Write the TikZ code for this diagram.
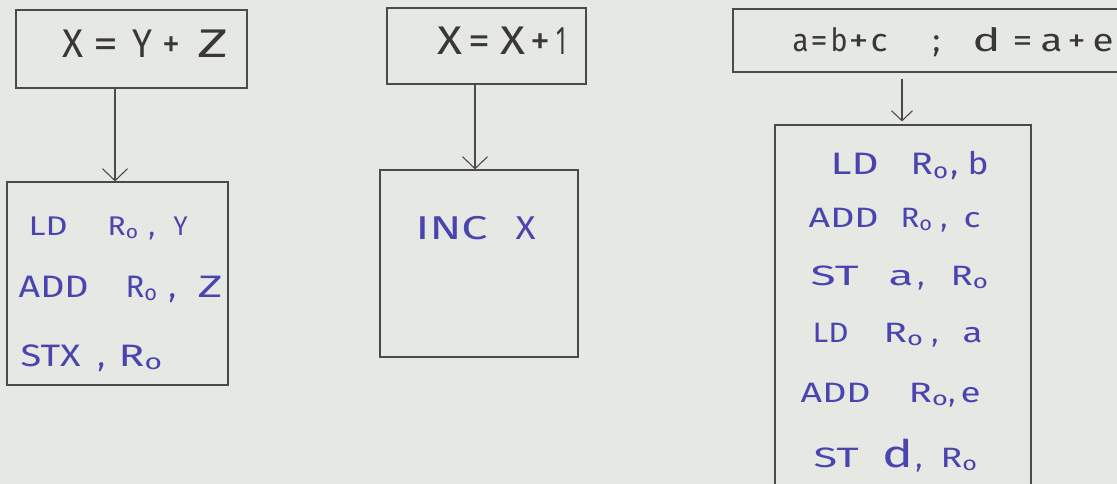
\documentclass[tikz,border=0pt]{standalone}
\usepackage{fontspec}
\usepackage{graphicx}
\setmainfont{Fira Sans}
\usetikzlibrary{arrows.meta}
\definecolor{paper}{HTML}{E6E8E3}
\definecolor{ink}{HTML}{4A44B0}
\definecolor{pencil}{HTML}{383838}
\definecolor{frame}{HTML}{4A4A4A}
\tikzset{
  boxnode/.style={draw=frame, line width=1.1pt, rectangle, inner sep=0pt},
  arr/.style={draw=frame, line width=1.1pt, -{Straight Barb[length=12pt,width=25pt,line width=1.1pt]}},
  code/.style={text=ink, anchor=base west, inner sep=0pt, font=\fontsize{28}{32}\selectfont},
  head/.style={text=pencil, anchor=base west, inner sep=0pt, font=\fontsize{40}{44}\selectfont},
}
% token at offset #1, stretched to width #2
\newcommand{\tk}[3]{\makebox[0pt][l]{\hspace*{#1}\resizebox{#2}{\height}{#3}}}
% token at offset #1, natural width
\newcommand{\tn}[2]{\makebox[0pt][l]{\hspace*{#1}#2}}
\newcommand{\Rz}{R\textsubscript{o}}
\begin{document}
\begin{tikzpicture}[x=1pt,y=-1pt]
\fill[paper] (0,0) rectangle (1117,484);
\useasboundingbox (0,0) rectangle (1117,484);
\clip (0,0) rectangle (1117,484);
% boxes
\node[boxnode, minimum width=231pt, minimum height=78pt] (t1) at (131.5,49) {};
\node[boxnode, minimum width=221pt, minimum height=203pt] (b1) at (117.5,283.5) {};
\node[boxnode, minimum width=199pt, minimum height=76pt] (t2) at (486.5,46) {};
\node[boxnode, minimum width=198pt, minimum height=187pt] (b2) at (479,263.5) {};
\node[boxnode, minimum width=397pt, minimum height=63pt] (t3) at (931.5,40.5) {};
\node[boxnode, minimum width=256pt, minimum height=372pt] (b3) at (903,311) {};
% arrow columns
\coordinate (c1) at (115,0);
\coordinate (c2) at (475,0);
\coordinate (c3) at (902,0);
\draw[arr] (t1.south -| c1) -- (b1.north -| c1);
\draw[arr] (t2.south -| c2) -- (b2.north -| c2);
\draw[arr, -{Straight Barb[length=10pt,width=21pt,line width=1.1pt]}] ([yshift=-6pt]t3.south -| c3) -- ([yshift=3pt]b3.north -| c3);
% headings
\node[head] (h1) at (62,58) {\tk{0pt}{21pt}{X}\tk{31pt}{25pt}{=}\tk{70pt}{20pt}{Y}\tk{100pt}{18pt}{+}\tk{135pt}{31pt}{Z}};
\node[head] (h2) at (437,55) {\tk{0pt}{25pt}{X}\tk{31pt}{22pt}{=}\tk{63pt}{25pt}{X}\tk{93pt}{20pt}{+}\tk{119pt}{10pt}{1}};
\node[head, font=\fontsize{32}{36}\selectfont] (h3) at (792,52) {\tk{0pt}{16pt}{a}\tk{18pt}{17pt}{=}\tk{38pt}{17pt}{b}\tk{56pt}{20pt}{+}\tk{78pt}{17pt}{c}\tn{140pt}{;}\tk{180pt}{28pt}{d}\tk{220pt}{20pt}{=}\tk{248pt}{22pt}{a}\tk{275pt}{18pt}{+}\tk{300pt}{21pt}{e}};
% box 1 code
\node[code, font=\fontsize{27}{30}\selectfont] (l11) at (28,235) {\tk{0pt}{39pt}{LD}\tk{79pt}{31pt}{\Rz}\tn{120pt}{,}\tk{145pt}{14pt}{Y}};
\node[code, font=\fontsize{31}{34}\selectfont] (l12) at (18,297) {\tk{0pt}{70pt}{ADD}\tk{107pt}{32pt}{\Rz}\tn{150pt}{,}\tk{179pt}{25pt}{Z}};
\node[code, font=\fontsize{31}{34}\selectfont] (l13) at (20,366) {\tk{0pt}{60pt}{STX}\tn{77pt}{,}\tk{98pt}{44pt}{\Rz}};
% box 2 code
\node[code, font=\fontsize{33}{36}\selectfont] (l21) at (415,240) {\tk{0pt}{72pt}{INC}\tk{100pt}{20pt}{X}};
% box 3 code
\node[code, font=\fontsize{31}{34}\selectfont] (l31) at (830,175) {\tk{0pt}{48pt}{LD}\tk{80pt}{38pt}{\Rz}\tn{120pt}{,}\tk{137pt}{21pt}{b}};
\node[code] (l32) at (808,227) {\tk{0pt}{70pt}{ADD}\tk{92pt}{32pt}{\Rz}\tn{132pt}{,}\tk{155pt}{17pt}{c}};
\node[code] (l33) at (810,285) {\tk{0pt}{48pt}{ST}\tk{78pt}{25pt}{a}\tn{107pt}{,}\tk{140pt}{38pt}{\Rz}};
\node[code] (l34) at (812,342) {\tk{0pt}{36pt}{LD}\tk{71pt}{40pt}{\Rz}\tn{119pt}{,}\tk{150pt}{20pt}{a}};
\node[code] (l35) at (800,402) {\tk{0pt}{70pt}{ADD}\tk{108pt}{40pt}{\Rz}\tn{148pt}{,}\tk{160pt}{20pt}{e}};
\node[code] (l36) at (813,467) {\tk{0pt}{45pt}{ST}\tk{69pt}{31pt}{\fontsize{38}{40}\selectfont d}\tn{102pt}{,}\tk{127pt}{37pt}{\Rz}};
\end{tikzpicture}
\end{document}
